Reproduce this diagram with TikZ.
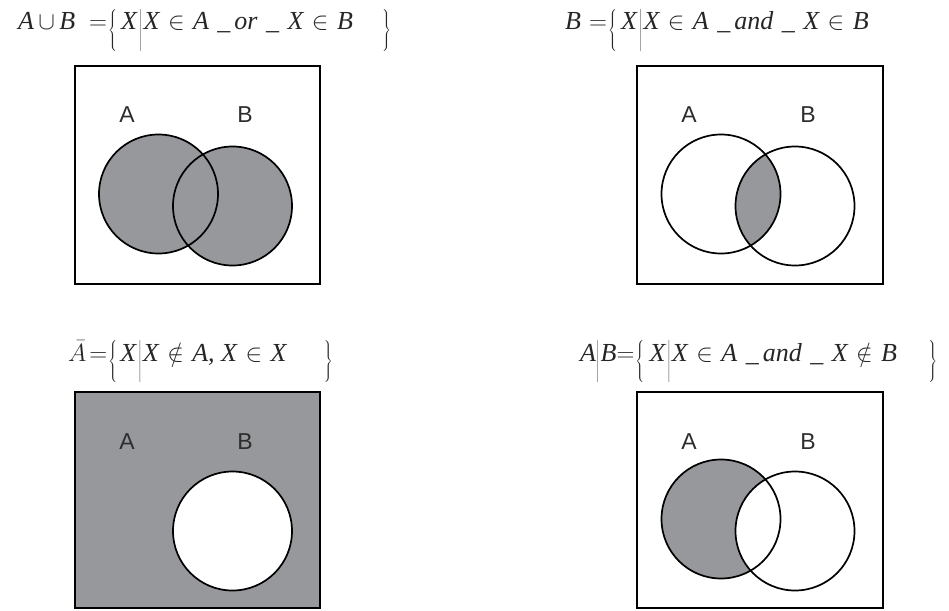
\documentclass[tikz,border=0pt]{standalone}
\usepackage{fontspec}
\setmainfont{Liberation Serif}
\newfontfamily\labelfont{Liberation Sans}

\definecolor{setgray}{RGB}{150,152,156}
\definecolor{labelgray}{RGB}{45,45,45}

% tall delimiters for the set notation
\newcommand{\setstrut}{\vrule height 27pt depth 15pt width 0pt}
\newcommand{\setopen}{\raisebox{-7pt}{$\left\{\setstrut\right.$}}
\newcommand{\setclose}{\raisebox{-7pt}{$\left.\setstrut\right\}$}}
\newcommand{\setbar}{\raisebox{-7pt}{$\left|\setstrut\right.$}}
\newcommand{\setgap}{\hspace{8.5pt}}

\tikzset{
  setbox/.style={line width=2.6pt},
  setcirc/.style={line width=1.7pt},
  setlabel/.style={font=\labelfont\fontsize{23}{26}\selectfont, text=labelgray},
  settitle/.style={anchor=base west, inner sep=0pt,
    font=\fontsize{26}{30}\selectfont\itshape, text=black!85},
}

\begin{document}
\begin{tikzpicture}[x=1pt, y=-1pt]

  \useasboundingbox (0,0) rectangle (949,610);

  % Titles
  \node[settitle] (t1) at (18,30)
    {A\,$\cup$\,B\hspace{14pt}$=$\hspace{1pt}\setopen\hspace{3pt}X\hspace{2pt}\setbar
     X\setgap$\in$\setgap A\setgap\_\hspace{4pt}or\setgap\_\setgap X\setgap$\in$\setgap B\hspace{28pt}\setclose};
  \node[settitle] (t2) at (565,30)
    {B\hspace{8pt}$=$\hspace{1pt}\setopen\hspace{3pt}X\hspace{2pt}\setbar
     X\setgap$\in$\setgap A\setgap\_\hspace{4pt}and\setgap\_\setgap X\setgap$\in$\setgap B};
  \node[settitle] (t3) at (68,361)
    {$\bar{A}$\hspace{3pt}$=$\hspace{1pt}\setopen\hspace{2pt}X\hspace{2pt}\setbar
     X\setgap$\notin$\setgap A, X\setgap$\in$\setgap X\hspace{36pt}\setclose};
  \node[settitle] (t4) at (580,361)
    {A\setbar B$=$\hspace{1pt}\setopen\hspace{4pt}X\hspace{2pt}\setbar
     X\setgap$\in$\setgap A\setgap\_\hspace{4pt}and\setgap\_\setgap X\setgap$\notin$\setgap B\hspace{30pt}\setclose};

  % Union
  \coordinate (A1) at (158.5,194);
  \coordinate (B1) at (232.5,206);
  \fill[setgray] (A1) circle[radius=59.5pt] (B1) circle[radius=59.5pt];
  \draw[setcirc] (A1) circle[radius=59.5pt] (B1) circle[radius=59.5pt];
  \draw[setbox] (75,66) rectangle (320,284);
  \node[setlabel] (a1) at (127,115) {A};
  \node[setlabel] (b1) at (245,115) {B};

  % Intersection
  \coordinate (A2) at (721,194);
  \coordinate (B2) at (795,206);
  \begin{scope}
    \clip (A2) circle[radius=59.5pt];
    \fill[setgray] (B2) circle[radius=59.5pt];
  \end{scope}
  \draw[setcirc] (A2) circle[radius=59.5pt] (B2) circle[radius=59.5pt];
  \draw[setbox] (637,66) rectangle (883,284);
  \node[setlabel] (a2) at (689,115) {A};
  \node[setlabel] (b2) at (808,115) {B};

  % Complement
  \coordinate (B3) at (232.5,531);
  \fill[setgray] (75,392) rectangle (320,608);
  \filldraw[setcirc, fill=white] (B3) circle[radius=59.5pt];
  \draw[setbox] (75,392) rectangle (320,608);
  \node[setlabel] (a3) at (127,442) {A};
  \node[setlabel] (b3) at (245,442) {B};

  % Difference
  \coordinate (A4) at (721,519);
  \coordinate (B4) at (795,531);
  \fill[setgray] (A4) circle[radius=59.5pt];
  \fill[white] (B4) circle[radius=59.5pt];
  \draw[setcirc] (A4) circle[radius=59.5pt] (B4) circle[radius=59.5pt];
  \draw[setbox] (637,392) rectangle (883,608);
  \node[setlabel] (a4) at (689,442) {A};
  \node[setlabel] (b4) at (808,442) {B};

\end{tikzpicture}
\end{document}
